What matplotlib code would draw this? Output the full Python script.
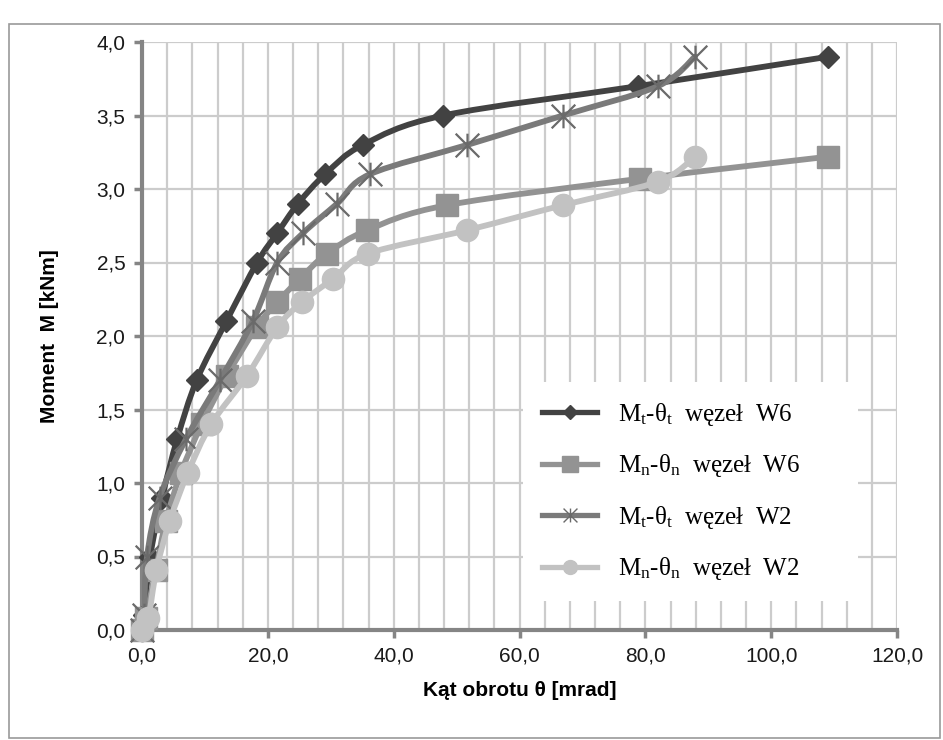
import numpy as np
import matplotlib.pyplot as plt
from matplotlib.path import Path
from matplotlib.patches import PathPatch, Rectangle
from matplotlib.lines import Line2D
from matplotlib.ticker import MultipleLocator, FuncFormatter

# moment levels (Mt) and the normal component (Mn)
Mt_W6 = [0.0, 0.1, 0.5, 0.9, 1.3, 1.7, 2.1, 2.5, 2.7, 2.9, 3.1, 3.3, 3.5, 3.7, 3.9]
Mn_W6 = [0.0, 0.08, 0.41, 0.74, 1.07, 1.40, 1.73, 2.06, 2.23, 2.39, 2.56, 2.72, 2.89, 3.07, 3.22]
Mt_W2 = [0.0, 0.1, 0.5, 0.9, 1.3, 1.7, 2.1, 2.5, 2.7, 2.9, 3.1, 3.3, 3.5, 3.7, 3.9]
Mn_W2 = [0.0, 0.08, 0.41, 0.74, 1.07, 1.40, 1.73, 2.06, 2.23, 2.39, 2.56, 2.72, 2.89, 3.05, 3.22]

# rotation angles [mrad]
th_t_W6 = [0.0, 0.3, 1.3, 3.2, 5.6, 8.7, 13.4, 18.3, 21.5, 24.8, 29.1, 35.1, 47.9, 78.9, 109.1]
th_n_W6 = [0.0, 0.6, 2.2, 3.8, 6.2, 9.5, 13.5, 18.2, 21.5, 25.1, 29.4, 35.8, 48.5, 79.2, 109.1]
th_t_W2 = [0.0, 0.3, 0.8, 2.8, 7.0, 12.4, 17.6, 21.5, 25.6, 31.0, 36.2, 51.7, 66.9, 82.0, 87.9]
th_n_W2 = [0.0, 1.0, 2.3, 4.4, 7.3, 11.0, 16.7, 21.5, 25.4, 30.4, 35.9, 51.7, 66.9, 82.0, 87.9]

labels = [r'M$_{\rm t}$-θ$_{\rm t}$  węzeł  W6', r'M$_{\rm n}$-θ$_{\rm n}$  węzeł  W6',
          r'M$_{\rm t}$-θ$_{\rm t}$  węzeł  W2', r'M$_{\rm n}$-θ$_{\rm n}$  węzeł  W2']

plt.rcParams['mathtext.fontset'] = 'custom'
plt.rcParams['mathtext.rm'] = 'Liberation Serif'
plt.rcParams['mathtext.it'] = 'Liberation Serif:italic'

# asterisk marker: X with a vertical bar
star = Path([(0, -1), (0, 1), (-1, -1), (1, 1), (-1, 1), (1, -1)],
            [Path.MOVETO, Path.LINETO, Path.MOVETO, Path.LINETO, Path.MOVETO, Path.LINETO])


def smooth_path(x, y):
    # Catmull-Rom style smoothing, like the spreadsheet "smoothed line"
    p = np.column_stack([x, y])
    ext = np.vstack([p[0], p, p[-1]])
    verts = [p[0]]
    codes = [Path.MOVETO]
    for i in range(len(p) - 1):
        p0, p1, p2, p3 = ext[i], ext[i + 1], ext[i + 2], ext[i + 3]
        verts += [p1 + (p2 - p0) / 6, p2 - (p3 - p1) / 6, p2]
        codes += [Path.CURVE4] * 3
    return Path(verts, codes)


fig = plt.figure(figsize=(9.43, 7.40), dpi=100)
fig.patches.append(Rectangle((9 / 943, 0.003), 931 / 943, 1 - 24 / 740 - 0.003,
                             transform=fig.transFigure, fill=False, ec='#9a9a9a', lw=1.2))
ax = fig.add_axes([142 / 943, 1 - 630 / 740, 755 / 943, 588 / 740])

series = [
    (th_t_W6, Mt_W6, '#424242', dict(marker='D', ms=11, mfc='#424242', mec='#424242')),
    (th_n_W6, Mn_W6, '#939393', dict(marker='s', ms=16, mfc='#939393', mec='#939393')),
    (th_t_W2, Mt_W2, '#7a7a7a', dict(marker=star, ms=17, mfc='none', mec='#6a6a6a', mew=1.6)),
    (th_n_W2, Mn_W2, '#c2c2c2', dict(marker='o', ms=16, mfc='#c2c2c2', mec='#c2c2c2')),
]

for k, (x, y, c, mk) in enumerate(series):
    ax.add_patch(PathPatch(smooth_path(x, y), fill=False, ec=c, lw=4.2,
                           capstyle='round', joinstyle='round', zorder=3 + k))
    ax.plot(x, y, ls='none', zorder=3.5 + k, clip_on=False, **mk)

ax.set_xlim(0, 120)
ax.set_ylim(0, 4)
ax.xaxis.set_major_locator(MultipleLocator(20))
ax.xaxis.set_minor_locator(MultipleLocator(4))
ax.yaxis.set_major_locator(MultipleLocator(0.5))
fmt = FuncFormatter(lambda v, p: f'{v:.1f}'.replace('.', ','))
ax.xaxis.set_major_formatter(fmt)
ax.yaxis.set_major_formatter(fmt)

ax.grid(True, which='both', axis='x', color='#cccccc', lw=1.6)
ax.grid(True, which='major', axis='y', color='#cccccc', lw=1.6)
ax.set_axisbelow(True)
for s in ['top', 'right']:
    ax.spines[s].set_visible(False)
for s in ['left', 'bottom']:
    ax.spines[s].set_color('#858585')
    ax.spines[s].set_linewidth(3)
    ax.spines[s].set_zorder(2.5)
ax.tick_params(which='major', length=6, width=2.5, color='#858585', labelsize=15,
               labelcolor='#1a1a1a', pad=6)
ax.tick_params(which='minor', length=0)
for t in ax.get_xticklabels() + ax.get_yticklabels():
    t.set_fontfamily('Liberation Sans')

ax.set_xlabel('Kąt obrotu θ [mrad]', fontsize=15, fontweight='bold',
              fontfamily='Liberation Sans', labelpad=11)
ax.set_ylabel('Moment  M [kNm]', fontsize=15, fontweight='bold',
              fontfamily='Liberation Sans', labelpad=27)

handles = [
    Line2D([], [], color='#424242', lw=3.8, marker='D', ms=7),
    Line2D([], [], color='#939393', lw=3.8, marker='s', ms=11),
    Line2D([], [], color='#7a7a7a', lw=3.8, marker=star, ms=10, mfc='none', mec='#6a6a6a', mew=1),
    Line2D([], [], color='#c2c2c2', lw=3.8, marker='o', ms=10),
]
leg = ax.legend(handles, labels, loc='center', mode='expand',
                bbox_to_anchor=(0.505, 0.2355 - 0.177, 0.444, 0.354),
                prop={'family': 'Liberation Serif', 'size': 18}, frameon=True,
                facecolor='white', edgecolor='none', framealpha=1, fancybox=False,
                handlelength=2.2, handletextpad=0.85, labelspacing=0.98,
                borderpad=0.75, borderaxespad=0)
leg.set_zorder(10)

fig.savefig('out.png', dpi=100)
